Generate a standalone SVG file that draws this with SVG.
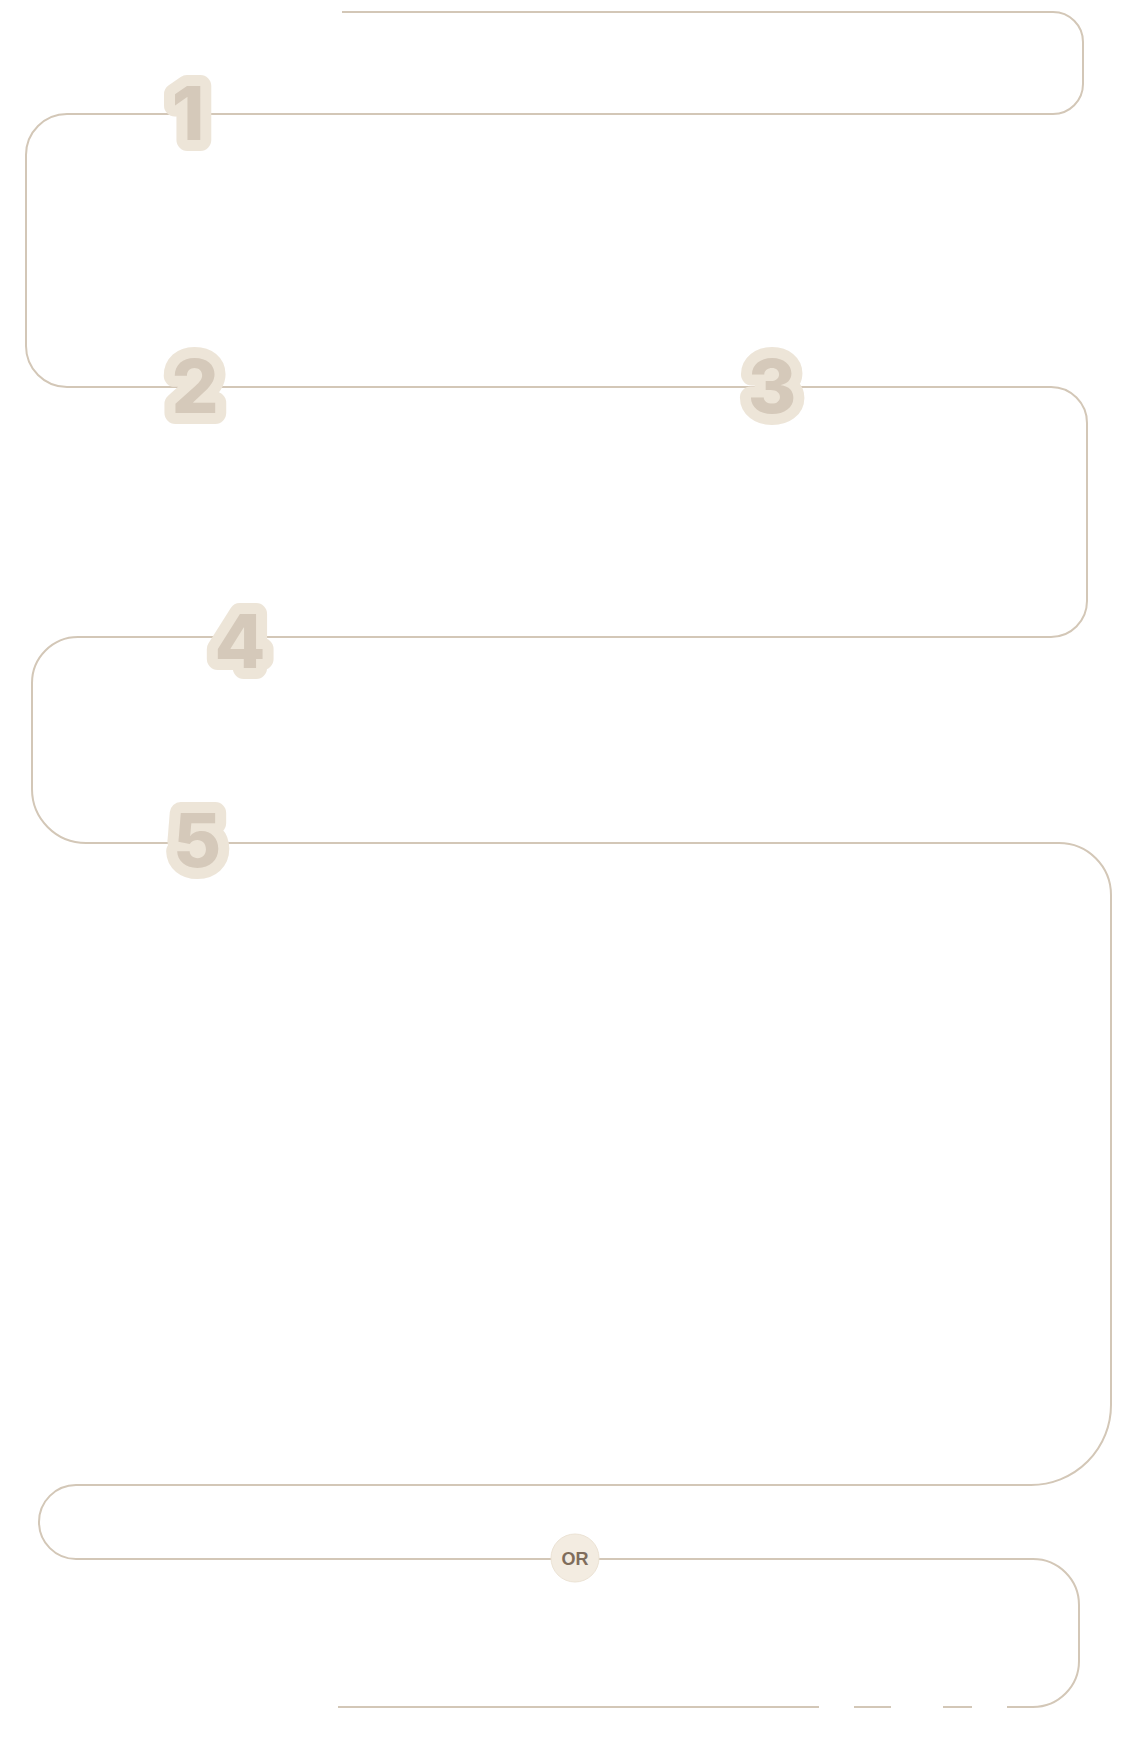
<svg xmlns="http://www.w3.org/2000/svg" width="1126" height="1738" viewBox="0 0 1126 1738">
<style>
.line{fill:none;stroke:#d3c7b7;stroke-width:2;stroke-linecap:butt}
.num{font-family:Inter,"Open Sans",sans-serif;font-weight:800;font-size:74px;text-anchor:middle;fill:#d5c9ba;stroke:#ede5d8;stroke-width:22;stroke-linejoin:round;paint-order:stroke}
.or-bg{fill:#f3ece1;stroke:#ece3d5;stroke-width:1}
.or-txt{font-family:"Liberation Sans",Arial,sans-serif;font-weight:700;font-size:18px;text-anchor:middle;fill:#7f6d5c}
</style>
<rect width="1126" height="1738" fill="#ffffff"/>
<g id="connectors">
<path class="line" d="M 342 12 H 1053 A 30 30 0 0 1 1083 42 V 84 A 30 30 0 0 1 1053 114 H 67 A 41 41 0 0 0 26 155 V 346 A 41 41 0 0 0 67 387 H 1051 A 36 36 0 0 1 1087 423 V 601 A 36 36 0 0 1 1051 637 H 78 A 46 46 0 0 0 32 683 V 789 A 54 54 0 0 0 86 843 H 1059 A 52 52 0 0 1 1111 895 V 1405 A 80 80 0 0 1 1031 1485 H 76 A 37 37 0 0 0 76 1559 H 1033 A 46 46 0 0 1 1079 1605 V 1661 A 46 46 0 0 1 1033 1707 H 1007"/>
<path class="line" d="M 972 1707 H 943 M 891 1707 H 854 M 819 1707 H 338"/>
</g>
<g id="step1"><text class="num" x="188" y="140">1</text></g>
<g id="step2"><text class="num" x="195" y="413">2</text></g>
<g id="step3"><text class="num" x="772" y="413">3</text></g>
<g id="step4"><text class="num" x="240" y="668">4</text></g>
<g id="step5"><text class="num" x="197" y="867">5</text></g>
<g id="or">
<circle class="or-bg" cx="575" cy="1558" r="24"/>
<text class="or-txt" x="575" y="1564.5">OR</text>
</g>
</svg>
